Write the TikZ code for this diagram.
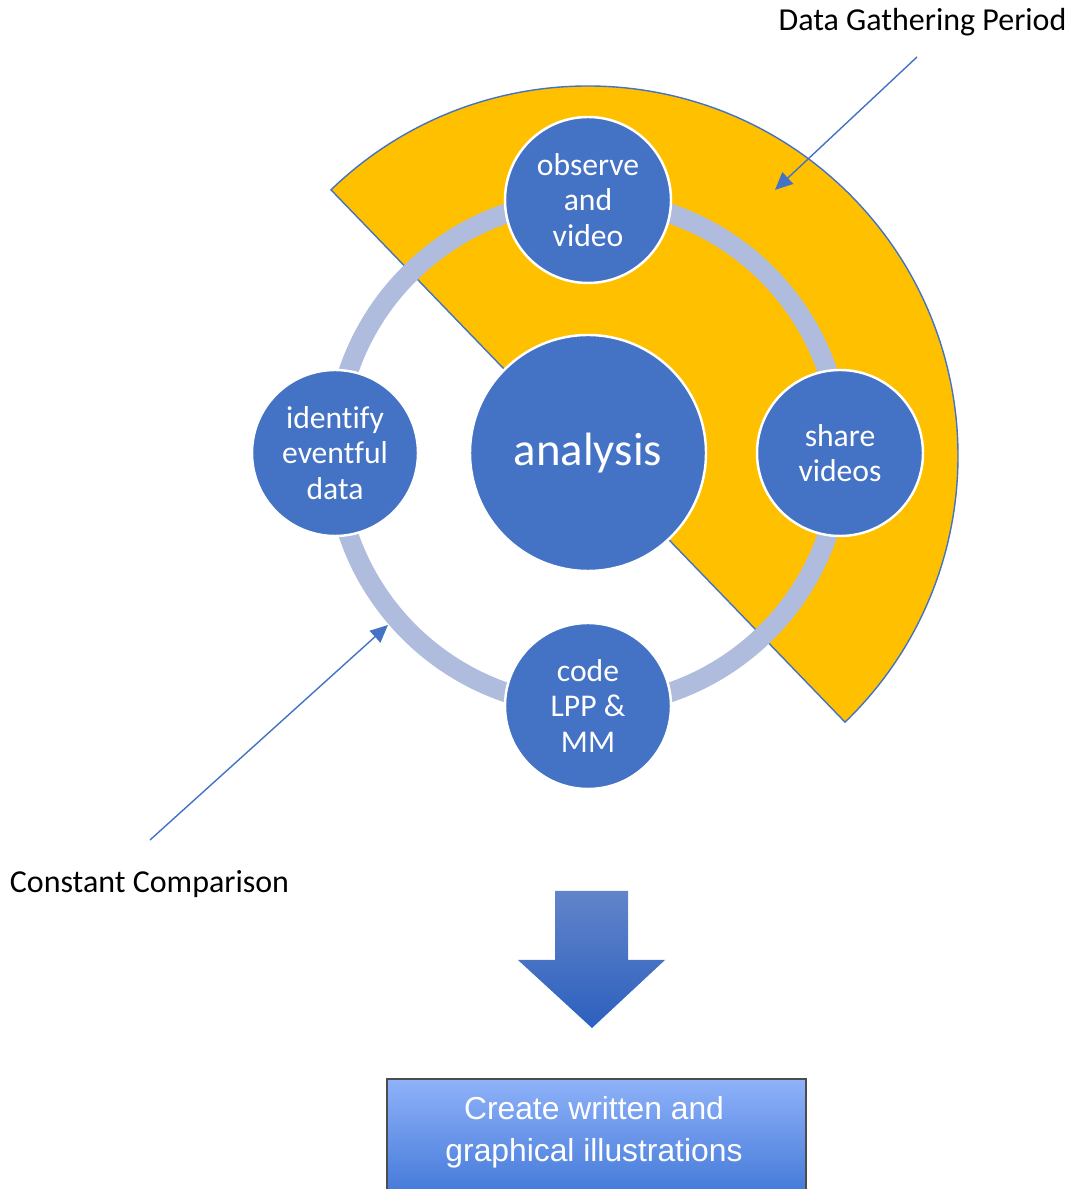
\documentclass[tikz,border=0pt]{standalone}
\usepackage{fontspec}
\setmainfont{Carlito}[Ligatures=NoCommon]
\newfontfamily\boxfont{Liberation Sans}
\usepackage{tikz}
\usetikzlibrary{arrows.meta,shapes,positioning}
\definecolor{cyblue}{RGB}{68,114,196}
\definecolor{cyyellow}{RGB}{255,192,0}
\definecolor{cyring}{RGB}{175,188,222}
\definecolor{cyboxtop}{RGB}{143,178,249}
\definecolor{cyboxbot}{RGB}{58,114,213}
\definecolor{cyarrtop}{RGB}{98,132,202}
\definecolor{cyarrbot}{RGB}{44,96,190}
\tikzstyle{stage} = [circle, fill=cyblue, draw=white, line width=0.7pt, minimum size=1.66cm, inner sep=0pt, text=white, align=center, font=\fontsize{9}{10}\selectfont]
\tikzstyle{core} = [stage, minimum size=2.36cm, font=\fontsize{13.3}{15}\selectfont]
\tikzstyle{pointer} = [line width=0.4pt, color=cyblue, -{Triangle[length=5pt,width=4.5pt]}]
\tikzstyle{caption} = [font=\fontsize{9.1}{10.5}\selectfont, inner sep=0pt]

\begin{document}
\begin{tikzpicture}
\useasboundingbox (0,0) rectangle (10.72,11.89);
\clip (0,0) rectangle (10.72,11.89);

% Data gathering half disc
\draw[fill=cyyellow, draw=cyblue, line width=0.4pt] (5.88,7.33) -- ++(134:3.70) arc[start angle=134, end angle=-46, radius=3.70] -- cycle;

% Cycle ring
\draw[cyring, line width=5.6pt] (5.88,7.36) circle (2.53cm);

% Stages
\node[core] (analysis) at (5.88,7.36) {analysis};
\node[stage] (observe) at (5.88,9.89) {observe\\and\\video};
\node[stage] (share) at (8.40,7.36) {share\\videos};
\node[stage] (code) at (5.88,4.83) {code\\LPP \&\\MM};
\node[stage] (identify) at (3.35,7.36) {identify\\eventful\\data};

% Labels and pointers
\node[caption] (gather) at (9.225,11.67) {Data Gathering Period};
\node[caption] (compare) at (1.495,3.05) {Constant Comparison};
\coordinate (gatherfrom) at (9.17,11.32);
\coordinate (gatherto) at (7.75,9.99);
\coordinate (comparefrom) at (1.50,3.49);
\coordinate (compareto) at (3.88,5.64);
\draw[pointer] (gatherfrom) -- (gatherto);
\draw[pointer] (comparefrom) -- (compareto);

% Block arrow down
\shade[top color=cyarrtop, bottom color=cyarrbot] (5.55,2.98) -- (6.28,2.98) -- (6.28,2.29) -- (6.65,2.29) -- (5.92,1.61) -- (5.18,2.29) -- (5.55,2.29) -- cycle;

% Output box
\shade[top color=cyboxtop, bottom color=cyboxbot, draw=black!70, line width=0.4pt] (3.87,-0.2) rectangle (8.06,1.10);
\node[text=white, align=center, inner sep=0pt, font=\boxfont\fontsize{9.05}{11.95}\selectfont] (illus) at (5.94,0.57) {Create written and\\graphical illustrations};
\end{tikzpicture}
\end{document}
